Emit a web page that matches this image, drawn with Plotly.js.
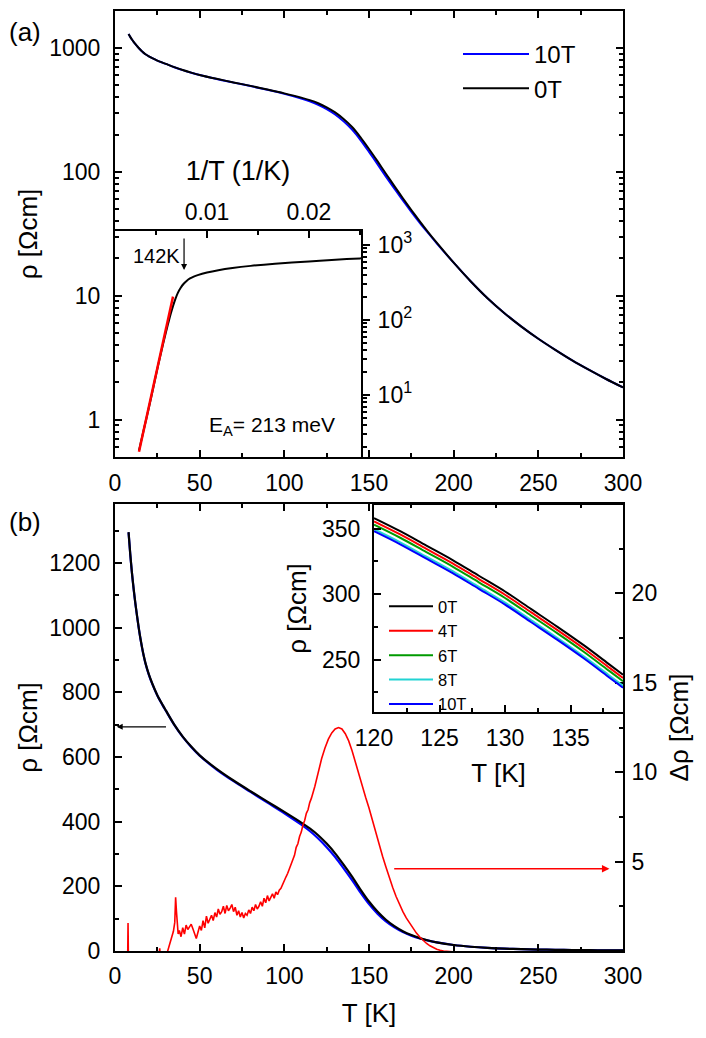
<!DOCTYPE html>
<html><head><meta charset="utf-8">
<script src="https://cdn.plot.ly/plotly-3.0.1.min.js"></script>
<style>html,body{margin:0;padding:0;background:#fff}</style>
</head><body><div id="chart" style="width:706px;height:1038px"></div>
<script>
// ---- data ----
const temperatureK = [8,9,10,11,12,13,14,15,16,17,18,20,22,25,28,30,35,40,45,50,60,70,80,90,100,110,115,120,125,130,135,140,145,150,155,160,165,170,175,180,185,190,200,210,220,230,240,250,260,270,280,290,300];
const rho0T  = [1295,1228,1170,1120,1076,1037,1000,967,938,912,890,855,827,791,762,744,700,663,632,605,563,527,494,462,430,397,379,358,332,302,267,230,190,153,122,96.6,76.7,61.2,49.2,39.8,32.5,26.8,18.5,13.1,9.55,7.23,5.64,4.5,3.66,3.01,2.52,2.13,1.82];
const rho10T = [1294,1227,1169,1119,1075,1036,999,966,937,911,889,854,826,790,761,743,699,662,631,604,561,525,492,459,426,390.5,371,348,321,290.5,255.5,219,180.5,145,115.5,91.6,73.2,58.7,47.6,38.8,32,26.5,18.5,13.1,9.55,7.23,5.64,4.5,3.66,3.01,2.52,2.13,1.82];

const fitInvT = [0.00333, 0.00667];
const fitRho  = [1.75, 205];

const dRhoT = [7.5,7.7,7.9,20,26,26.4,26.8,30.5,31.5,32.5,33.5,34.5,35.3,35.8,36.3,36.8,37.3,
  38,39,40,41,42,43,44,45,46,47,48,49,50,51,52,53,54,55,56,57,58,59,60,61,62,63,64,65,66,67,68,69,70,71,72,73,74,75,76,77,
  78,79,80,81,82,83,84,85,86,87,88,89,90,91,92,93,94,95,96,97,98,99,100,101,102,103,104,105,106,107,108,109,110,111,112,113,114,115,116,
  118,120,122,124,126,128,130,132,134,136,138,140,142,144,146,148,150,152,154,156,158,160,162,164,166,168,170,172,174,176,178,180,182,184,186,188,190,192,194,
  200,250,300];
const dRho = [-0.3,1.56,-0.3,-0.3,-0.3,0.15,-0.3,-0.2,0.1,0.45,0.8,1.1,1.6,3.0,2.2,1.3,0.95,
  1.15,0.8,1.3,0.95,1.45,1.2,1.35,1.5,1.25,1.0,0.7,1.05,1.4,1.15,1.7,1.3,1.95,1.55,1.75,2.0,1.7,2.15,1.9,2.35,2.05,2.2,2.5,2.1,2.55,2.25,2.4,2.6,2.2,2.45,2.0,2.25,1.9,2.15,1.85,2.1,
  2.0,2.3,2.1,2.45,2.25,2.6,2.35,2.5,2.75,2.5,2.95,2.7,3.1,2.8,3.0,3.2,2.95,3.3,3.15,3.4,3.5,3.75,3.9,4.15,4.35,4.6,4.8,5.15,5.35,5.8,6.0,6.4,6.65,7.05,7.3,7.7,7.9,8.3,8.55,
  9.2,10.0,10.75,11.35,11.85,12.2,12.42,12.5,12.42,12.15,11.75,11.2,10.55,9.85,9.15,8.6,8.0,7.3,6.6,5.95,5.3,4.7,4.1,3.55,3.05,2.6,2.2,1.85,1.55,1.25,1.0,0.78,0.58,0.42,0.29,0.18,0.1,0.04,0.0,
  -0.05,-0.05,-0.05];

const insetT = [120,122,124,126,128,130,132,134,136,138,139];
const insetRho0T  = [358,348,337,326,314,302,288.5,275,261,246,238.5];
const insetRho4T  = [355.5,345.5,334.5,323.5,311.5,299.5,286,272.5,258.5,243.5,236];
const insetRho6T  = [353,343,332,321,309,297,283.5,270,256,241,233.5];
const insetRho8T  = [349.5,339.5,328.5,317.5,305.5,293.5,280,266.5,252.5,237.5,230];
const insetRho10T = [348,338,327,316,304,292,278.5,265,251,236,228.5];
const insetLabels = ['0T','4T','6T','8T','10T'];
const insetColors = ['#000000','#ff0000','#009a00','#22d3d3','#0000ff'];

// ---- helpers ----
const W = 706, H = 1038;
const px = v => v / W, py = v => 1 - v / H;
const FONT = 'Liberation Sans, Arial, Helvetica, sans-serif';
const invT = temperatureK.map(t => 1 / t);
const logMinor = [];
for (let e = -1; e <= 3; e++) for (let m = 2; m <= 9; m++) logMinor.push(m * Math.pow(10, e));

const TICKF = 23;
const axBase = {
  showgrid: false, zeroline: false, showline: true, linewidth: 2, linecolor: '#000',
  ticks: 'inside', ticklen: 7, tickwidth: 1.5, tickcolor: '#000',
  tickfont: {size: TICKF, family: FONT, color: '#000'}
};
const minorIn = (d) => ({ticks: 'inside', ticklen: 4, tickwidth: 1.5, tickcolor: '#000', dtick: d, showgrid: false});

const traces = [
  // panel (a)
  {x: temperatureK, y: rho10T, xaxis: 'x', yaxis: 'y', mode: 'lines', name: '10T', line: {color: '#0000ff', width: 2, shape: 'spline', smoothing: 0.8}, legend: 'legend'},
  {x: temperatureK, y: rho0T, xaxis: 'x', yaxis: 'y', mode: 'lines', name: '0T', line: {color: '#000', width: 2, shape: 'spline', smoothing: 0.8}, legend: 'legend'},
  // inset (a)
  {x: invT, y: rho0T, xaxis: 'x4', yaxis: 'y4', mode: 'lines', showlegend: false, line: {color: '#000', width: 2, shape: 'spline', smoothing: 0.8}},
  {x: fitInvT, y: fitRho, xaxis: 'x4', yaxis: 'y4', mode: 'lines', showlegend: false, line: {color: '#ff0000', width: 2.5}},
  // panel (b)
  {x: dRhoT, y: dRho, xaxis: 'x2', yaxis: 'y3', mode: 'lines', showlegend: false, line: {color: '#ff0000', width: 1.6}},
  {x: temperatureK, y: rho10T, xaxis: 'x2', yaxis: 'y2', mode: 'lines', showlegend: false, line: {color: '#0000ff', width: 2.2, shape: 'spline', smoothing: 0.8}},
  {x: temperatureK, y: rho0T, xaxis: 'x2', yaxis: 'y2', mode: 'lines', showlegend: false, line: {color: '#000', width: 2.2, shape: 'spline', smoothing: 0.8}}
];
const insetSeries = [insetRho0T, insetRho4T, insetRho6T, insetRho8T, insetRho10T];
insetSeries.forEach((ys, i) => traces.push({
  x: insetT, y: ys, xaxis: 'x5', yaxis: 'y5', mode: 'lines', name: insetLabels[i],
  line: {color: insetColors[i], width: 2, shape: 'spline'}, legend: 'legend2'
}));

const layout = {
  width: W, height: H, margin: {l: 0, r: 0, t: 0, b: 0},
  paper_bgcolor: '#fff', plot_bgcolor: 'rgba(0,0,0,0)',
  font: {family: FONT, color: '#000', size: 22},
  // panel (a)
  xaxis: Object.assign({}, axBase, {domain: [px(115), px(623)], anchor: 'y', range: [0, 300], dtick: 50,
    mirror: 'ticks', minor: minorIn(25), ticklabelstandoff: 4}),
  yaxis: Object.assign({}, axBase, {domain: [py(457), py(11)], anchor: 'x', type: 'log',
    range: [Math.log10(0.5), 3.298], tickmode: 'array', tickvals: [1, 10, 100, 1000], ticktext: ['1', '10', '100', '1000'],
    mirror: 'ticks', minor: {ticks: 'inside', ticklen: 4, tickwidth: 1.5, tickcolor: '#000', tickmode: 'array', tickvals: logMinor},
    ticklabelstandoff: 8,
    title: {text: 'ρ [Ωcm]', font: {size: 26, family: FONT}, standoff: 4}}),
  // inset (a)
  xaxis4: Object.assign({}, axBase, {domain: [px(115), px(361)], anchor: 'y4', side: 'top',
    range: [0.00098, 0.0251], tickmode: 'array', tickvals: [0.01, 0.02], ticktext: ['0.01', '0.02'],
    minor: {ticks: 'inside', ticklen: 4, tickwidth: 1.5, tickcolor: '#000', tickmode: 'array', tickvals: [0.005, 0.015, 0.025]},
    ticklabelstandoff: 0,
    title: {text: '1/T (1/K)', font: {size: 27, family: FONT}, standoff: 10}}),
  yaxis4: Object.assign({}, axBase, {domain: [py(457), py(231)], anchor: 'x4', side: 'right', type: 'log',
    range: [0.173, 3.187], tickmode: 'array', tickvals: [10, 100, 1000],
    ticktext: ['10<sup>1</sup>', '10<sup>2</sup>', '10<sup>3</sup>'], ticks: 'outside',
    minor: {ticks: 'outside', ticklen: 4, tickwidth: 1.5, tickcolor: '#000', tickmode: 'array', tickvals: logMinor},
    ticklabelstandoff: 3}),
  // panel (b)
  xaxis2: Object.assign({}, axBase, {domain: [px(115), px(623)], anchor: 'y2', range: [0, 300], dtick: 50,
    mirror: 'ticks', minor: minorIn(25), ticklabelstandoff: 3,
    title: {text: 'T [K]', font: {size: 26, family: FONT}, standoff: 16}}),
  yaxis2: Object.assign({}, axBase, {domain: [py(951), py(504)], anchor: 'x2', range: [0, 1382], dtick: 200,
    minor: minorIn(100), ticklabelstandoff: 8,
    title: {text: 'ρ [Ωcm]', font: {size: 26, family: FONT}, standoff: 4}}),
  yaxis3: Object.assign({}, axBase, {overlaying: 'y2', anchor: 'x2', side: 'right', range: [0, 25],
    tickmode: 'array', tickvals: [5, 10, 15, 20], ticklen: 8,
    minor: {ticks: 'inside', ticklen: 4, tickwidth: 1.5, tickcolor: '#000', tickmode: 'array', tickvals: [2.5, 7.5, 12.5, 17.5, 22.5]},
    ticklabelstandoff: 2,
    title: {text: 'Δρ [Ωcm]', font: {size: 26, family: FONT}, standoff: 14}}),
  // inset (b)
  xaxis5: Object.assign({}, axBase, {domain: [px(374), px(623)], anchor: 'y5', range: [120, 139], dtick: 5,
    mirror: true, minor: minorIn(2.5), ticklabelstandoff: 4,
    title: {text: 'T [K]', font: {size: 26, family: FONT}, standoff: 14}}),
  yaxis5: Object.assign({}, axBase, {domain: [py(712), py(505)], anchor: 'x5', range: [210, 368], dtick: 50,
    mirror: true, minor: minorIn(25), ticklabelstandoff: 7,
    title: {text: 'ρ [Ωcm]', font: {size: 26, family: FONT}, standoff: 8}}),
  legend: {x: px(458), y: py(32), xanchor: 'left', yanchor: 'top', bgcolor: 'rgba(0,0,0,0)',
    font: {size: 24, family: FONT}, itemwidth: 66, tracegroupgap: 0},
  legend2: {x: px(384), y: py(589), xanchor: 'left', yanchor: 'top', bgcolor: 'rgba(0,0,0,0)',
    font: {size: 16.5, family: FONT}, itemwidth: 44, tracegroupgap: 0},
  annotations: [
    {xref: 'paper', yref: 'paper', x: px(25), y: py(32), xanchor: 'center', yanchor: 'middle', text: '(a)', showarrow: false, font: {size: 26}},
    {xref: 'paper', yref: 'paper', x: px(25), y: py(522), xanchor: 'center', yanchor: 'middle', text: '(b)', showarrow: false, font: {size: 26}},
    {xref: 'paper', yref: 'paper', x: px(156), y: py(256), xanchor: 'center', yanchor: 'middle', text: '142K', showarrow: false, font: {size: 20}},
    {xref: 'paper', yref: 'paper', x: px(272), y: py(426), xanchor: 'center', yanchor: 'middle', text: 'E<sub>A</sub>= 213 meV', showarrow: false, font: {size: 21}},
    {xref: 'x4', yref: 'y4', x: 0.00775, y: Math.log10(464), axref: 'x4', ayref: 'y4', ax: 0.00775, ay: Math.log10(1279),
      text: '', showarrow: true, arrowhead: 2, arrowsize: 1, arrowwidth: 1.2, arrowcolor: '#000'},
    {xref: 'x2', yref: 'y2', x: 1, y: 693, axref: 'x2', ayref: 'y2', ax: 31, ay: 693,
      text: '', showarrow: true, arrowhead: 2, arrowsize: 1, arrowwidth: 1.2, arrowcolor: '#000'},
    {xref: 'x2', yref: 'y3', x: 292, y: 4.6, axref: 'x2', ayref: 'y3', ax: 164, ay: 4.6,
      text: '', showarrow: true, arrowhead: 2, arrowsize: 1, arrowwidth: 1.5, arrowcolor: '#ff0000'}
  ]
};

Plotly.newPlot('chart', traces, layout, {displayModeBar: false, responsive: false});
</script>
</body></html>
